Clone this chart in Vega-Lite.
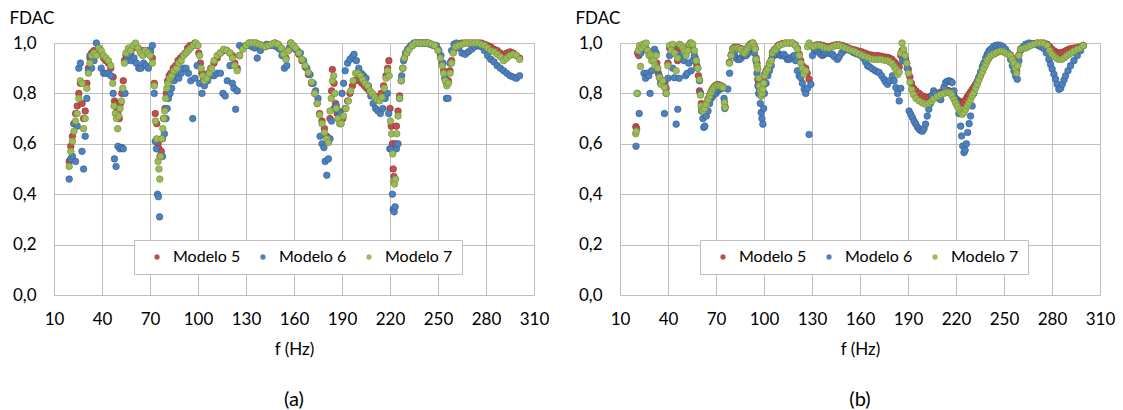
{
"$schema":"https://vega.github.io/schema/vega-lite/v6.json",
"padding":{"left":8,"top":8,"right":0,"bottom":0},
"spacing":24,
"resolve":{"legend":{"color":"independent"}},
"config":{
"font":"Lato",
"view":{"stroke":"#bfbfbf"},
"axis":{"grid":true,"gridColor":"#bfbfbf","domain":false,"ticks":false,"labelFontSize":17,"labelColor":"#000000","titleFontSize":17,"titleFontWeight":"normal","titleColor":"#000000"},
"axisX":{"labelPadding":16,"titlePadding":14,"labelFlush":false},
"axisY":{"labelPadding":18,"titleAngle":0,"titleAlign":"left","titleBaseline":"middle","titleX":-45,"titleY":-25},
"title":{"fontSize":20,"fontWeight":"normal","color":"#000000","orient":"bottom","offset":33}
},
"datasets":{
"a":[
{"f":19.5,"m":5,"v":0.53},{"f":20.5,"m":5,"v":0.59},{"f":21.5,"m":5,"v":0.63},{"f":22.5,"m":5,"v":0.68},{"f":23.5,"m":5,"v":0.72},{"f":24.5,"m":5,"v":0.75},{"f":25.5,"m":5,"v":0.8},{"f":26.5,"m":5,"v":0.84},{"f":27.5,"m":5,"v":0.76},{"f":28.5,"m":5,"v":0.7},{"f":29.5,"m":5,"v":0.73},{"f":30.5,"m":5,"v":0.84},{"f":31.5,"m":5,"v":0.9},{"f":32.5,"m":5,"v":0.94},{"f":33.5,"m":5,"v":0.96},{"f":35,"m":5,"v":0.97},{"f":36.5,"m":5,"v":0.96},{"f":38,"m":5,"v":0.97},{"f":39.5,"m":5,"v":0.96},{"f":41,"m":5,"v":0.94},{"f":42.5,"m":5,"v":0.93},{"f":44,"m":5,"v":0.92},{"f":45.5,"m":5,"v":0.9},{"f":47,"m":5,"v":0.865},{"f":47.8,"m":5,"v":0.77},{"f":48.5,"m":5,"v":0.76},{"f":49.3,"m":5,"v":0.74},{"f":50,"m":5,"v":0.73},{"f":50.8,"m":5,"v":0.7},{"f":51.6,"m":5,"v":0.76},{"f":52.4,"m":5,"v":0.8},{"f":53.3,"m":5,"v":0.85},{"f":54,"m":5,"v":0.93},{"f":55,"m":5,"v":0.95},{"f":56.5,"m":5,"v":0.97},{"f":58,"m":5,"v":0.96},{"f":59.5,"m":5,"v":0.98},{"f":61,"m":5,"v":0.99},{"f":62.5,"m":5,"v":0.98},{"f":64,"m":5,"v":0.97},{"f":65.5,"m":5,"v":0.97},{"f":67,"m":5,"v":0.96},{"f":68.5,"m":5,"v":0.97},{"f":70,"m":5,"v":0.96},{"f":71.5,"m":5,"v":0.94},{"f":72.7,"m":5,"v":0.84},{"f":73.3,"m":5,"v":0.72},{"f":74.2,"m":5,"v":0.68},{"f":75,"m":5,"v":0.6},{"f":75.6,"m":5,"v":0.58},{"f":76.3,"m":5,"v":0.55},{"f":77,"m":5,"v":0.57},{"f":77.8,"m":5,"v":0.62},{"f":78.5,"m":5,"v":0.7},{"f":79.3,"m":5,"v":0.74},{"f":80.2,"m":5,"v":0.8},{"f":81,"m":5,"v":0.85},{"f":82,"m":5,"v":0.87},{"f":83,"m":5,"v":0.88},{"f":84.5,"m":5,"v":0.9},{"f":86,"m":5,"v":0.91},{"f":87.5,"m":5,"v":0.93},{"f":89,"m":5,"v":0.94},{"f":90.5,"m":5,"v":0.95},{"f":92,"m":5,"v":0.96},{"f":93.5,"m":5,"v":0.98},{"f":95,"m":5,"v":0.99},{"f":96.5,"m":5,"v":0.99},{"f":98,"m":5,"v":1.0},{"f":99.5,"m":5,"v":0.99},{"f":100.5,"m":5,"v":0.96},{"f":101.5,"m":5,"v":0.92},{"f":102.5,"m":5,"v":0.88},{"f":103.5,"m":5,"v":0.86},{"f":105,"m":5,"v":0.86},{"f":106.5,"m":5,"v":0.88},{"f":108,"m":5,"v":0.9},{"f":110,"m":5,"v":0.92},{"f":112,"m":5,"v":0.94},{"f":114,"m":5,"v":0.96},{"f":116,"m":5,"v":0.97},{"f":118,"m":5,"v":0.97},{"f":120,"m":5,"v":0.96},{"f":121.5,"m":5,"v":0.95},{"f":123,"m":5,"v":0.92},{"f":124.5,"m":5,"v":0.9},{"f":126,"m":5,"v":0.95},{"f":128,"m":5,"v":0.98},{"f":130,"m":5,"v":0.99},{"f":132,"m":5,"v":1.0},{"f":134,"m":5,"v":1.0},{"f":136,"m":5,"v":1.0},{"f":138,"m":5,"v":0.995},{"f":140,"m":5,"v":0.99},{"f":142,"m":5,"v":0.985},{"f":144,"m":5,"v":0.99},{"f":146,"m":5,"v":0.995},{"f":148,"m":5,"v":1.0},{"f":150,"m":5,"v":0.995},{"f":152,"m":5,"v":0.98},{"f":153.5,"m":5,"v":0.95},{"f":155,"m":5,"v":0.94},{"f":156.5,"m":5,"v":0.97},{"f":158,"m":5,"v":1.0},{"f":159.5,"m":5,"v":0.99},{"f":161,"m":5,"v":0.975},{"f":163,"m":5,"v":0.955},{"f":165,"m":5,"v":0.93},{"f":167,"m":5,"v":0.905},{"f":169,"m":5,"v":0.875},{"f":171,"m":5,"v":0.84},{"f":173,"m":5,"v":0.8},{"f":174.5,"m":5,"v":0.76},{"f":176,"m":5,"v":0.72},{"f":177.5,"m":5,"v":0.69},{"f":179,"m":5,"v":0.66},{"f":180.5,"m":5,"v":0.63},{"f":181.5,"m":5,"v":0.61},{"f":182.5,"m":5,"v":0.7},{"f":183.5,"m":5,"v":0.81},{"f":184,"m":5,"v":0.895},{"f":185,"m":5,"v":0.84},{"f":186,"m":5,"v":0.76},{"f":187,"m":5,"v":0.72},{"f":188,"m":5,"v":0.7},{"f":189,"m":5,"v":0.68},{"f":190.5,"m":5,"v":0.7},{"f":192,"m":5,"v":0.74},{"f":193.5,"m":5,"v":0.77},{"f":195,"m":5,"v":0.8},{"f":196.5,"m":5,"v":0.83},{"f":198,"m":5,"v":0.85},{"f":199.5,"m":5,"v":0.855},{"f":201,"m":5,"v":0.85},{"f":202.5,"m":5,"v":0.84},{"f":204,"m":5,"v":0.83},{"f":205.5,"m":5,"v":0.82},{"f":207,"m":5,"v":0.81},{"f":208.5,"m":5,"v":0.8},{"f":210,"m":5,"v":0.79},{"f":211.5,"m":5,"v":0.785},{"f":213,"m":5,"v":0.785},{"f":214.5,"m":5,"v":0.8},{"f":216,"m":5,"v":0.83},{"f":217.5,"m":5,"v":0.87},{"f":218.5,"m":5,"v":0.9},{"f":219.3,"m":5,"v":0.93},{"f":220,"m":5,"v":0.74},{"f":220.8,"m":5,"v":0.67},{"f":221.5,"m":5,"v":0.6},{"f":222,"m":5,"v":0.5},{"f":222.5,"m":5,"v":0.47},{"f":223.3,"m":5,"v":0.6},{"f":224,"m":5,"v":0.67},{"f":225,"m":5,"v":0.73},{"f":226,"m":5,"v":0.79},{"f":227,"m":5,"v":0.85},{"f":228,"m":5,"v":0.9},{"f":229,"m":5,"v":0.94},{"f":230.5,"m":5,"v":0.96},{"f":232,"m":5,"v":0.98},{"f":234,"m":5,"v":0.99},{"f":236,"m":5,"v":1.0},{"f":238,"m":5,"v":1.0},{"f":240,"m":5,"v":1.0},{"f":242,"m":5,"v":1.0},{"f":244,"m":5,"v":1.0},{"f":246,"m":5,"v":0.995},{"f":248,"m":5,"v":0.99},{"f":250,"m":5,"v":0.975},{"f":251.5,"m":5,"v":0.95},{"f":252.5,"m":5,"v":0.92},{"f":253.5,"m":5,"v":0.89},{"f":254.5,"m":5,"v":0.86},{"f":255.5,"m":5,"v":0.84},{"f":256.5,"m":5,"v":0.85},{"f":257.5,"m":5,"v":0.89},{"f":258.5,"m":5,"v":0.93},{"f":259.5,"m":5,"v":0.965},{"f":261,"m":5,"v":0.99},{"f":263,"m":5,"v":0.995},{"f":265,"m":5,"v":1.0},{"f":267,"m":5,"v":1.0},{"f":269,"m":5,"v":1.0},{"f":271,"m":5,"v":1.0},{"f":273,"m":5,"v":1.0},{"f":275,"m":5,"v":1.0},{"f":277,"m":5,"v":1.0},{"f":279,"m":5,"v":0.995},{"f":281,"m":5,"v":0.99},{"f":283,"m":5,"v":0.985},{"f":285,"m":5,"v":0.975},{"f":287,"m":5,"v":0.97},{"f":289,"m":5,"v":0.96},{"f":291,"m":5,"v":0.95},{"f":293,"m":5,"v":0.96},{"f":295,"m":5,"v":0.965},{"f":297,"m":5,"v":0.96},{"f":299,"m":5,"v":0.95},{"f":301,"m":5,"v":0.94},
{"f":19.5,"m":6,"v":0.46},{"f":20.5,"m":6,"v":0.54},{"f":21.5,"m":6,"v":0.55},{"f":22.5,"m":6,"v":0.68},{"f":23.5,"m":6,"v":0.53},{"f":24.5,"m":6,"v":0.67},{"f":25.5,"m":6,"v":0.9},{"f":26.5,"m":6,"v":0.92},{"f":27.5,"m":6,"v":0.57},{"f":28.5,"m":6,"v":0.5},{"f":29.5,"m":6,"v":0.63},{"f":30.5,"m":6,"v":0.78},{"f":31.5,"m":6,"v":0.89},{"f":32.5,"m":6,"v":0.95},{"f":33.5,"m":6,"v":0.9},{"f":35,"m":6,"v":0.93},{"f":36.5,"m":6,"v":1.0},{"f":38,"m":6,"v":0.98},{"f":39.5,"m":6,"v":0.9},{"f":41,"m":6,"v":0.88},{"f":42.5,"m":6,"v":0.88},{"f":44,"m":6,"v":0.88},{"f":45.5,"m":6,"v":0.87},{"f":47,"m":6,"v":0.8},{"f":47.8,"m":6,"v":0.54},{"f":48.8,"m":6,"v":0.51},{"f":50,"m":6,"v":0.59},{"f":51.2,"m":6,"v":0.58},{"f":52.4,"m":6,"v":0.585},{"f":53.3,"m":6,"v":0.58},{"f":54.4,"m":6,"v":0.8},{"f":55.5,"m":6,"v":0.93},{"f":57,"m":6,"v":0.95},{"f":58.5,"m":6,"v":0.93},{"f":60,"m":6,"v":0.94},{"f":61.5,"m":6,"v":0.92},{"f":63,"m":6,"v":0.9},{"f":64.4,"m":6,"v":0.9},{"f":66,"m":6,"v":0.92},{"f":67.5,"m":6,"v":0.91},{"f":69,"m":6,"v":0.9},{"f":70.3,"m":6,"v":0.97},{"f":71.5,"m":6,"v":0.99},{"f":72.7,"m":6,"v":0.8},{"f":73.3,"m":6,"v":0.61},{"f":74,"m":6,"v":0.58},{"f":74.7,"m":6,"v":0.4},{"f":75.3,"m":6,"v":0.39},{"f":76,"m":6,"v":0.31},{"f":76.8,"m":6,"v":0.55},{"f":77.8,"m":6,"v":0.55},{"f":79,"m":6,"v":0.64},{"f":80,"m":6,"v":0.7},{"f":80.7,"m":6,"v":0.74},{"f":81.5,"m":6,"v":0.78},{"f":82.5,"m":6,"v":0.8},{"f":83.5,"m":6,"v":0.82},{"f":85,"m":6,"v":0.85},{"f":86.5,"m":6,"v":0.87},{"f":88,"m":6,"v":0.86},{"f":89.5,"m":6,"v":0.88},{"f":91,"m":6,"v":0.9},{"f":92.5,"m":6,"v":0.9},{"f":94,"m":6,"v":0.88},{"f":95.5,"m":6,"v":0.85},{"f":96.7,"m":6,"v":0.7},{"f":98,"m":6,"v":0.86},{"f":99.5,"m":6,"v":0.91},{"f":101,"m":6,"v":0.84},{"f":102.5,"m":6,"v":0.8},{"f":104,"m":6,"v":0.83},{"f":106,"m":6,"v":0.85},{"f":108,"m":6,"v":0.87},{"f":110,"m":6,"v":0.87},{"f":112,"m":6,"v":0.88},{"f":114,"m":6,"v":0.88},{"f":115.6,"m":6,"v":0.8},{"f":117,"m":6,"v":0.79},{"f":118.3,"m":6,"v":0.85},{"f":120,"m":6,"v":0.91},{"f":121.5,"m":6,"v":0.84},{"f":122.5,"m":6,"v":0.82},{"f":123.5,"m":6,"v":0.737},{"f":124.5,"m":6,"v":0.81},{"f":126,"m":6,"v":0.99},{"f":128,"m":6,"v":0.98},{"f":130,"m":6,"v":0.99},{"f":132,"m":6,"v":0.99},{"f":134,"m":6,"v":0.985},{"f":135.5,"m":6,"v":0.98},{"f":137,"m":6,"v":0.94},{"f":139,"m":6,"v":0.97},{"f":141,"m":6,"v":0.99},{"f":143,"m":6,"v":0.995},{"f":145,"m":6,"v":0.99},{"f":147,"m":6,"v":0.99},{"f":149,"m":6,"v":0.985},{"f":151,"m":6,"v":0.975},{"f":152.5,"m":6,"v":0.95},{"f":154,"m":6,"v":0.9},{"f":155.5,"m":6,"v":0.91},{"f":157,"m":6,"v":0.98},{"f":158.5,"m":6,"v":0.99},{"f":160,"m":6,"v":0.98},{"f":162,"m":6,"v":0.97},{"f":164,"m":6,"v":0.96},{"f":166,"m":6,"v":0.93},{"f":168,"m":6,"v":0.9},{"f":170,"m":6,"v":0.875},{"f":172,"m":6,"v":0.84},{"f":173.5,"m":6,"v":0.81},{"f":175,"m":6,"v":0.78},{"f":176.3,"m":6,"v":0.63},{"f":177.5,"m":6,"v":0.6},{"f":178.7,"m":6,"v":0.585},{"f":179.5,"m":6,"v":0.53},{"f":180.5,"m":6,"v":0.475},{"f":181.5,"m":6,"v":0.54},{"f":182.5,"m":6,"v":0.62},{"f":183.5,"m":6,"v":0.69},{"f":185,"m":6,"v":0.74},{"f":186.5,"m":6,"v":0.75},{"f":188,"m":6,"v":0.73},{"f":189,"m":6,"v":0.72},{"f":190,"m":6,"v":0.8},{"f":191,"m":6,"v":0.84},{"f":192,"m":6,"v":0.89},{"f":193.5,"m":6,"v":0.92},{"f":195,"m":6,"v":0.935},{"f":196.5,"m":6,"v":0.945},{"f":197.5,"m":6,"v":0.955},{"f":199,"m":6,"v":0.93},{"f":200.5,"m":6,"v":0.9},{"f":202,"m":6,"v":0.88},{"f":203.5,"m":6,"v":0.87},{"f":205,"m":6,"v":0.86},{"f":206.5,"m":6,"v":0.83},{"f":208,"m":6,"v":0.79},{"f":209.5,"m":6,"v":0.76},{"f":211,"m":6,"v":0.74},{"f":212.5,"m":6,"v":0.73},{"f":214,"m":6,"v":0.72},{"f":215.5,"m":6,"v":0.74},{"f":217,"m":6,"v":0.78},{"f":218.3,"m":6,"v":0.8},{"f":219.2,"m":6,"v":0.72},{"f":219.9,"m":6,"v":0.58},{"f":220.6,"m":6,"v":0.58},{"f":221.5,"m":6,"v":0.4},{"f":222,"m":6,"v":0.34},{"f":222.6,"m":6,"v":0.33},{"f":223.2,"m":6,"v":0.35},{"f":224,"m":6,"v":0.58},{"f":225,"m":6,"v":0.6},{"f":226,"m":6,"v":0.78},{"f":227.3,"m":6,"v":0.87},{"f":228.5,"m":6,"v":0.93},{"f":229.7,"m":6,"v":0.96},{"f":231,"m":6,"v":0.975},{"f":233,"m":6,"v":0.99},{"f":235,"m":6,"v":1.0},{"f":237,"m":6,"v":1.0},{"f":239,"m":6,"v":1.0},{"f":241,"m":6,"v":1.0},{"f":243,"m":6,"v":1.0},{"f":245,"m":6,"v":0.995},{"f":247,"m":6,"v":0.99},{"f":249,"m":6,"v":0.99},{"f":250.5,"m":6,"v":0.97},{"f":251.8,"m":6,"v":0.95},{"f":253,"m":6,"v":0.92},{"f":254.3,"m":6,"v":0.86},{"f":255.3,"m":6,"v":0.78},{"f":256.3,"m":6,"v":0.78},{"f":257.5,"m":6,"v":0.92},{"f":258.5,"m":6,"v":0.97},{"f":260,"m":6,"v":0.995},{"f":261.5,"m":6,"v":1.0},{"f":263,"m":6,"v":0.98},{"f":265,"m":6,"v":0.96},{"f":267,"m":6,"v":0.955},{"f":269,"m":6,"v":0.965},{"f":271,"m":6,"v":0.975},{"f":273,"m":6,"v":0.985},{"f":275,"m":6,"v":0.99},{"f":277,"m":6,"v":0.985},{"f":279,"m":6,"v":0.97},{"f":281,"m":6,"v":0.95},{"f":283,"m":6,"v":0.935},{"f":285,"m":6,"v":0.925},{"f":287,"m":6,"v":0.91},{"f":289,"m":6,"v":0.9},{"f":291,"m":6,"v":0.89},{"f":293,"m":6,"v":0.88},{"f":295,"m":6,"v":0.87},{"f":297,"m":6,"v":0.865},{"f":299,"m":6,"v":0.86},{"f":301,"m":6,"v":0.87},
{"f":19.5,"m":7,"v":0.51},{"f":20.5,"m":7,"v":0.57},{"f":21.5,"m":7,"v":0.61},{"f":22.5,"m":7,"v":0.65},{"f":23.5,"m":7,"v":0.69},{"f":24.5,"m":7,"v":0.72},{"f":25.5,"m":7,"v":0.78},{"f":26.5,"m":7,"v":0.85},{"f":27.5,"m":7,"v":0.84},{"f":28.5,"m":7,"v":0.66},{"f":29.5,"m":7,"v":0.7},{"f":30.5,"m":7,"v":0.82},{"f":31.5,"m":7,"v":0.88},{"f":32.5,"m":7,"v":0.92},{"f":33.5,"m":7,"v":0.95},{"f":35,"m":7,"v":0.96},{"f":36.5,"m":7,"v":0.95},{"f":38,"m":7,"v":0.98},{"f":39.5,"m":7,"v":0.97},{"f":41,"m":7,"v":0.95},{"f":42.5,"m":7,"v":0.94},{"f":44,"m":7,"v":0.93},{"f":45.5,"m":7,"v":0.91},{"f":46.7,"m":7,"v":0.84},{"f":47.5,"m":7,"v":0.75},{"f":48.3,"m":7,"v":0.72},{"f":49,"m":7,"v":0.7},{"f":49.8,"m":7,"v":0.66},{"f":50.5,"m":7,"v":0.71},{"f":51.3,"m":7,"v":0.74},{"f":52.2,"m":7,"v":0.77},{"f":53,"m":7,"v":0.82},{"f":54,"m":7,"v":0.92},{"f":55,"m":7,"v":0.96},{"f":56.5,"m":7,"v":0.98},{"f":58,"m":7,"v":0.97},{"f":59.5,"m":7,"v":0.99},{"f":61,"m":7,"v":1.0},{"f":62.5,"m":7,"v":0.98},{"f":64,"m":7,"v":0.96},{"f":65.5,"m":7,"v":0.95},{"f":67,"m":7,"v":0.97},{"f":68.5,"m":7,"v":0.96},{"f":70,"m":7,"v":0.95},{"f":71.5,"m":7,"v":0.92},{"f":72.7,"m":7,"v":0.83},{"f":73.4,"m":7,"v":0.69},{"f":74.2,"m":7,"v":0.62},{"f":75,"m":7,"v":0.53},{"f":75.6,"m":7,"v":0.5},{"f":76.1,"m":7,"v":0.46},{"f":76.7,"m":7,"v":0.55},{"f":77.4,"m":7,"v":0.62},{"f":78,"m":7,"v":0.66},{"f":78.6,"m":7,"v":0.7},{"f":79.2,"m":7,"v":0.73},{"f":79.8,"m":7,"v":0.78},{"f":80.5,"m":7,"v":0.82},{"f":81.3,"m":7,"v":0.84},{"f":82.3,"m":7,"v":0.86},{"f":83.5,"m":7,"v":0.87},{"f":85,"m":7,"v":0.89},{"f":86.5,"m":7,"v":0.9},{"f":88,"m":7,"v":0.92},{"f":89.5,"m":7,"v":0.93},{"f":91,"m":7,"v":0.95},{"f":92.5,"m":7,"v":0.96},{"f":94,"m":7,"v":0.97},{"f":95.5,"m":7,"v":0.98},{"f":97,"m":7,"v":0.99},{"f":98.5,"m":7,"v":1.0},{"f":100,"m":7,"v":0.99},{"f":101,"m":7,"v":0.95},{"f":102,"m":7,"v":0.9},{"f":103,"m":7,"v":0.87},{"f":104,"m":7,"v":0.85},{"f":105.5,"m":7,"v":0.86},{"f":107,"m":7,"v":0.88},{"f":108.5,"m":7,"v":0.9},{"f":110,"m":7,"v":0.93},{"f":112,"m":7,"v":0.95},{"f":114,"m":7,"v":0.96},{"f":116,"m":7,"v":0.975},{"f":118,"m":7,"v":0.97},{"f":120,"m":7,"v":0.96},{"f":121.5,"m":7,"v":0.94},{"f":123,"m":7,"v":0.91},{"f":124.5,"m":7,"v":0.89},{"f":126,"m":7,"v":0.95},{"f":128,"m":7,"v":0.975},{"f":130,"m":7,"v":0.99},{"f":132,"m":7,"v":1.0},{"f":134,"m":7,"v":1.0},{"f":136,"m":7,"v":1.0},{"f":138,"m":7,"v":0.995},{"f":140,"m":7,"v":0.99},{"f":142,"m":7,"v":0.985},{"f":144,"m":7,"v":0.99},{"f":146,"m":7,"v":0.995},{"f":148,"m":7,"v":1.0},{"f":150,"m":7,"v":0.995},{"f":152,"m":7,"v":0.98},{"f":153.5,"m":7,"v":0.955},{"f":155,"m":7,"v":0.935},{"f":156.5,"m":7,"v":0.97},{"f":158,"m":7,"v":1.0},{"f":159.5,"m":7,"v":0.99},{"f":161,"m":7,"v":0.98},{"f":163,"m":7,"v":0.96},{"f":165,"m":7,"v":0.935},{"f":167,"m":7,"v":0.91},{"f":169,"m":7,"v":0.883},{"f":171,"m":7,"v":0.845},{"f":173,"m":7,"v":0.8},{"f":174.5,"m":7,"v":0.76},{"f":176,"m":7,"v":0.715},{"f":177.5,"m":7,"v":0.68},{"f":179,"m":7,"v":0.645},{"f":180.5,"m":7,"v":0.62},{"f":181.5,"m":7,"v":0.605},{"f":182.5,"m":7,"v":0.73},{"f":183.3,"m":7,"v":0.78},{"f":184,"m":7,"v":0.85},{"f":184.8,"m":7,"v":0.87},{"f":185.5,"m":7,"v":0.8},{"f":186.5,"m":7,"v":0.74},{"f":187.5,"m":7,"v":0.7},{"f":188.5,"m":7,"v":0.68},{"f":189.5,"m":7,"v":0.68},{"f":191,"m":7,"v":0.71},{"f":192.5,"m":7,"v":0.74},{"f":194,"m":7,"v":0.77},{"f":195.5,"m":7,"v":0.81},{"f":197,"m":7,"v":0.85},{"f":198.5,"m":7,"v":0.88},{"f":200,"m":7,"v":0.88},{"f":201.5,"m":7,"v":0.87},{"f":203,"m":7,"v":0.855},{"f":204.5,"m":7,"v":0.84},{"f":206,"m":7,"v":0.83},{"f":207.5,"m":7,"v":0.81},{"f":209,"m":7,"v":0.8},{"f":210.5,"m":7,"v":0.785},{"f":212,"m":7,"v":0.775},{"f":213.5,"m":7,"v":0.77},{"f":215,"m":7,"v":0.785},{"f":216.5,"m":7,"v":0.82},{"f":217.5,"m":7,"v":0.86},{"f":218.5,"m":7,"v":0.89},{"f":219.5,"m":7,"v":0.87},{"f":220.3,"m":7,"v":0.69},{"f":221,"m":7,"v":0.64},{"f":221.7,"m":7,"v":0.56},{"f":222.2,"m":7,"v":0.45},{"f":222.8,"m":7,"v":0.44},{"f":223.5,"m":7,"v":0.46},{"f":224.2,"m":7,"v":0.64},{"f":225,"m":7,"v":0.71},{"f":226,"m":7,"v":0.78},{"f":227,"m":7,"v":0.85},{"f":228,"m":7,"v":0.9},{"f":229,"m":7,"v":0.94},{"f":230.5,"m":7,"v":0.96},{"f":232,"m":7,"v":0.975},{"f":234,"m":7,"v":0.99},{"f":236,"m":7,"v":1.0},{"f":238,"m":7,"v":1.0},{"f":240,"m":7,"v":1.0},{"f":242,"m":7,"v":1.0},{"f":244,"m":7,"v":1.0},{"f":246,"m":7,"v":0.995},{"f":248,"m":7,"v":0.99},{"f":250,"m":7,"v":0.97},{"f":251.5,"m":7,"v":0.94},{"f":252.5,"m":7,"v":0.91},{"f":253.5,"m":7,"v":0.88},{"f":254.5,"m":7,"v":0.85},{"f":255.5,"m":7,"v":0.83},{"f":256.5,"m":7,"v":0.84},{"f":257.5,"m":7,"v":0.88},{"f":258.5,"m":7,"v":0.92},{"f":259.5,"m":7,"v":0.96},{"f":261,"m":7,"v":0.985},{"f":263,"m":7,"v":0.99},{"f":265,"m":7,"v":0.995},{"f":267,"m":7,"v":1.0},{"f":269,"m":7,"v":1.0},{"f":271,"m":7,"v":1.0},{"f":273,"m":7,"v":1.0},{"f":275,"m":7,"v":1.0},{"f":277,"m":7,"v":0.995},{"f":279,"m":7,"v":0.99},{"f":281,"m":7,"v":0.98},{"f":283,"m":7,"v":0.97},{"f":285,"m":7,"v":0.965},{"f":287,"m":7,"v":0.955},{"f":289,"m":7,"v":0.945},{"f":291,"m":7,"v":0.93},{"f":293,"m":7,"v":0.94},{"f":295,"m":7,"v":0.95},{"f":297,"m":7,"v":0.955},{"f":299,"m":7,"v":0.95},{"f":301,"m":7,"v":0.935}
],
"b":[
{"f":19.9,"m":5,"v":0.668},{"f":20.4,"m":5,"v":0.66},{"f":21,"m":5,"v":0.96},{"f":21.8,"m":5,"v":0.95},{"f":22.6,"m":5,"v":0.97},{"f":23.5,"m":5,"v":0.98},{"f":24.5,"m":5,"v":0.99},{"f":25.5,"m":5,"v":0.98},{"f":26.5,"m":5,"v":0.975},{"f":27.4,"m":5,"v":0.968},{"f":28.3,"m":5,"v":0.96},{"f":29.2,"m":5,"v":0.95},{"f":30,"m":5,"v":0.94},{"f":31,"m":5,"v":0.93},{"f":32,"m":5,"v":0.95},{"f":33,"m":5,"v":0.92},{"f":34,"m":5,"v":0.88},{"f":35,"m":5,"v":0.86},{"f":36,"m":5,"v":0.85},{"f":36.8,"m":5,"v":0.85},{"f":37.8,"m":5,"v":0.84},{"f":38.8,"m":5,"v":0.82},{"f":40,"m":5,"v":0.92},{"f":41,"m":5,"v":0.98},{"f":42,"m":5,"v":0.99},{"f":43,"m":5,"v":0.98},{"f":44,"m":5,"v":0.96},{"f":45,"m":5,"v":0.975},{"f":46,"m":5,"v":0.93},{"f":47,"m":5,"v":0.98},{"f":48,"m":5,"v":0.99},{"f":49,"m":5,"v":0.98},{"f":50,"m":5,"v":0.97},{"f":51,"m":5,"v":0.96},{"f":52,"m":5,"v":0.97},{"f":53,"m":5,"v":0.99},{"f":54,"m":5,"v":1.0},{"f":55,"m":5,"v":0.99},{"f":56,"m":5,"v":0.97},{"f":57,"m":5,"v":0.94},{"f":58,"m":5,"v":0.91},{"f":59,"m":5,"v":0.87},{"f":59.7,"m":5,"v":0.81},{"f":60.3,"m":5,"v":0.8},{"f":60.8,"m":5,"v":0.76},{"f":61.3,"m":5,"v":0.74},{"f":62,"m":5,"v":0.735},{"f":63,"m":5,"v":0.745},{"f":64,"m":5,"v":0.76},{"f":65,"m":5,"v":0.778},{"f":66,"m":5,"v":0.793},{"f":67,"m":5,"v":0.808},{"f":68,"m":5,"v":0.82},{"f":69,"m":5,"v":0.828},{"f":70.1,"m":5,"v":0.833},{"f":71.1,"m":5,"v":0.835},{"f":72.2,"m":5,"v":0.833},{"f":73.2,"m":5,"v":0.83},{"f":74.3,"m":5,"v":0.826},{"f":75.3,"m":5,"v":0.766},{"f":75.7,"m":5,"v":0.747},{"f":78.4,"m":5,"v":0.923},{"f":79.5,"m":5,"v":0.953},{"f":80.5,"m":5,"v":0.978},{"f":81.5,"m":5,"v":0.983},{"f":82.6,"m":5,"v":0.983},{"f":83.6,"m":5,"v":0.983},{"f":84.7,"m":5,"v":0.978},{"f":85.7,"m":5,"v":0.978},{"f":86.8,"m":5,"v":0.968},{"f":87.8,"m":5,"v":0.963},{"f":88.9,"m":5,"v":0.973},{"f":89.9,"m":5,"v":0.983},{"f":91,"m":5,"v":0.993},{"f":92,"m":5,"v":0.998},{"f":93,"m":5,"v":1.0},{"f":94,"m":5,"v":0.988},{"f":94.5,"m":5,"v":0.978},{"f":95.1,"m":5,"v":0.94},{"f":95.6,"m":5,"v":0.92},{"f":96.1,"m":5,"v":0.856},{"f":96.7,"m":5,"v":0.84},{"f":97.2,"m":5,"v":0.82},{"f":97.7,"m":5,"v":0.8},{"f":98.2,"m":5,"v":0.79},{"f":98.8,"m":5,"v":0.81},{"f":99.3,"m":5,"v":0.826},{"f":99.8,"m":5,"v":0.85},{"f":100.3,"m":5,"v":0.875},{"f":101.3,"m":5,"v":0.89},{"f":102.4,"m":5,"v":0.9},{"f":103.4,"m":5,"v":0.918},{"f":104.5,"m":5,"v":0.933},{"f":105.3,"m":5,"v":0.963},{"f":106.4,"m":5,"v":0.973},{"f":107.4,"m":5,"v":0.978},{"f":108.5,"m":5,"v":0.988},{"f":109.5,"m":5,"v":0.993},{"f":111.5,"m":5,"v":0.998},{"f":113.6,"m":5,"v":1.0},{"f":115.7,"m":5,"v":1.0},{"f":117.8,"m":5,"v":1.0},{"f":119.5,"m":5,"v":0.993},{"f":121,"m":5,"v":0.978},{"f":122,"m":5,"v":0.955},{"f":123,"m":5,"v":0.93},{"f":124,"m":5,"v":0.91},{"f":125,"m":5,"v":0.9},{"f":126.1,"m":5,"v":0.9},{"f":127,"m":5,"v":0.88},{"f":128.2,"m":5,"v":0.856},{"f":129.2,"m":5,"v":0.99},{"f":131,"m":5,"v":0.988},{"f":133,"m":5,"v":0.993},{"f":135,"m":5,"v":0.993},{"f":137,"m":5,"v":0.99},{"f":139,"m":5,"v":0.985},{"f":141,"m":5,"v":0.985},{"f":143,"m":5,"v":0.99},{"f":145,"m":5,"v":0.993},{"f":147,"m":5,"v":0.993},{"f":149,"m":5,"v":0.99},{"f":151,"m":5,"v":0.985},{"f":153,"m":5,"v":0.98},{"f":155,"m":5,"v":0.975},{"f":157,"m":5,"v":0.972},{"f":159,"m":5,"v":0.968},{"f":161,"m":5,"v":0.965},{"f":163,"m":5,"v":0.96},{"f":165,"m":5,"v":0.955},{"f":167,"m":5,"v":0.952},{"f":169,"m":5,"v":0.95},{"f":171,"m":5,"v":0.95},{"f":173,"m":5,"v":0.948},{"f":175,"m":5,"v":0.945},{"f":177,"m":5,"v":0.943},{"f":178.5,"m":5,"v":0.94},{"f":180,"m":5,"v":0.935},{"f":181.5,"m":5,"v":0.925},{"f":182.5,"m":5,"v":0.915},{"f":183.5,"m":5,"v":0.9},{"f":184.5,"m":5,"v":0.905},{"f":185.5,"m":5,"v":0.95},{"f":186.3,"m":5,"v":0.97},{"f":187.2,"m":5,"v":0.96},{"f":188.2,"m":5,"v":0.94},{"f":189.2,"m":5,"v":0.92},{"f":190.2,"m":5,"v":0.895},{"f":191.2,"m":5,"v":0.865},{"f":192.2,"m":5,"v":0.84},{"f":193.5,"m":5,"v":0.82},{"f":195,"m":5,"v":0.81},{"f":197,"m":5,"v":0.8},{"f":199,"m":5,"v":0.79},{"f":201,"m":5,"v":0.785},{"f":203,"m":5,"v":0.785},{"f":204.5,"m":5,"v":0.79},{"f":206,"m":5,"v":0.795},{"f":208.3,"m":5,"v":0.8},{"f":210.3,"m":5,"v":0.805},{"f":212.4,"m":5,"v":0.81},{"f":214.5,"m":5,"v":0.812},{"f":215.6,"m":5,"v":0.81},{"f":216.6,"m":5,"v":0.805},{"f":217.6,"m":5,"v":0.8},{"f":218.7,"m":5,"v":0.79},{"f":219.7,"m":5,"v":0.78},{"f":220.7,"m":5,"v":0.775},{"f":221.8,"m":5,"v":0.77},{"f":222.9,"m":5,"v":0.765},{"f":223.9,"m":5,"v":0.76},{"f":225,"m":5,"v":0.765},{"f":226,"m":5,"v":0.775},{"f":227,"m":5,"v":0.785},{"f":228,"m":5,"v":0.795},{"f":229.1,"m":5,"v":0.805},{"f":230.1,"m":5,"v":0.815},{"f":231.2,"m":5,"v":0.825},{"f":232.2,"m":5,"v":0.835},{"f":233.3,"m":5,"v":0.848},{"f":234.3,"m":5,"v":0.86},{"f":235.4,"m":5,"v":0.875},{"f":236.4,"m":5,"v":0.888},{"f":237.4,"m":5,"v":0.902},{"f":238.5,"m":5,"v":0.917},{"f":239.5,"m":5,"v":0.93},{"f":240.6,"m":5,"v":0.94},{"f":241.6,"m":5,"v":0.95},{"f":243.2,"m":5,"v":0.955},{"f":244.7,"m":5,"v":0.96},{"f":246.3,"m":5,"v":0.965},{"f":247.9,"m":5,"v":0.968},{"f":249.5,"m":5,"v":0.966},{"f":251,"m":5,"v":0.962},{"f":252.6,"m":5,"v":0.957},{"f":254.1,"m":5,"v":0.952},{"f":255.2,"m":5,"v":0.94},{"f":256.2,"m":5,"v":0.925},{"f":257.2,"m":5,"v":0.905},{"f":257.9,"m":5,"v":0.89},{"f":258.6,"m":5,"v":0.915},{"f":259.3,"m":5,"v":0.953},{"f":260.4,"m":5,"v":0.977},{"f":262,"m":5,"v":0.98},{"f":263.5,"m":5,"v":0.983},{"f":265,"m":5,"v":0.988},{"f":266.6,"m":5,"v":0.992},{"f":268.7,"m":5,"v":0.997},{"f":270.8,"m":5,"v":1.0},{"f":272.9,"m":5,"v":1.0},{"f":274.9,"m":5,"v":1.0},{"f":277,"m":5,"v":0.995},{"f":278.5,"m":5,"v":0.985},{"f":280,"m":5,"v":0.975},{"f":281.5,"m":5,"v":0.968},{"f":283,"m":5,"v":0.962},{"f":284.5,"m":5,"v":0.96},{"f":286,"m":5,"v":0.962},{"f":287.5,"m":5,"v":0.965},{"f":289,"m":5,"v":0.97},{"f":290.5,"m":5,"v":0.975},{"f":292,"m":5,"v":0.978},{"f":293.7,"m":5,"v":0.98},{"f":295.8,"m":5,"v":0.982},{"f":297.9,"m":5,"v":0.985},{"f":299.5,"m":5,"v":0.99},
{"f":20,"m":6,"v":0.59},{"f":20.8,"m":6,"v":0.8},{"f":22,"m":6,"v":0.72},{"f":23,"m":6,"v":0.96},{"f":24,"m":6,"v":0.98},{"f":25,"m":6,"v":0.88},{"f":26,"m":6,"v":0.86},{"f":27,"m":6,"v":0.88},{"f":28,"m":6,"v":0.87},{"f":28.8,"m":6,"v":0.8},{"f":29.8,"m":6,"v":0.89},{"f":30.8,"m":6,"v":0.93},{"f":31.6,"m":6,"v":0.975},{"f":32.6,"m":6,"v":0.96},{"f":33.4,"m":6,"v":0.9},{"f":34.5,"m":6,"v":0.87},{"f":35.4,"m":6,"v":0.84},{"f":36.4,"m":6,"v":0.84},{"f":37.8,"m":6,"v":0.72},{"f":38.8,"m":6,"v":0.8},{"f":40,"m":6,"v":0.86},{"f":41,"m":6,"v":0.95},{"f":42,"m":6,"v":0.97},{"f":43,"m":6,"v":0.9},{"f":44,"m":6,"v":0.862},{"f":45.1,"m":6,"v":0.678},{"f":46.1,"m":6,"v":0.737},{"f":47,"m":6,"v":0.86},{"f":48,"m":6,"v":0.95},{"f":49,"m":6,"v":0.96},{"f":50,"m":6,"v":0.93},{"f":51,"m":6,"v":0.87},{"f":52,"m":6,"v":0.88},{"f":53,"m":6,"v":0.92},{"f":54.5,"m":6,"v":0.89},{"f":55.5,"m":6,"v":0.93},{"f":56.5,"m":6,"v":0.95},{"f":57.6,"m":6,"v":0.93},{"f":58.6,"m":6,"v":0.9},{"f":59.7,"m":6,"v":0.85},{"f":60.3,"m":6,"v":0.8},{"f":61,"m":6,"v":0.73},{"f":61.8,"m":6,"v":0.7},{"f":62.4,"m":6,"v":0.665},{"f":63,"m":6,"v":0.67},{"f":63.9,"m":6,"v":0.71},{"f":65,"m":6,"v":0.73},{"f":66,"m":6,"v":0.76},{"f":67,"m":6,"v":0.78},{"f":68,"m":6,"v":0.79},{"f":69,"m":6,"v":0.8},{"f":70,"m":6,"v":0.8},{"f":71,"m":6,"v":0.81},{"f":72,"m":6,"v":0.815},{"f":73,"m":6,"v":0.82},{"f":74,"m":6,"v":0.82},{"f":75,"m":6,"v":0.78},{"f":75.5,"m":6,"v":0.74},{"f":77.4,"m":6,"v":0.817},{"f":78.5,"m":6,"v":0.88},{"f":79.5,"m":6,"v":0.95},{"f":80.5,"m":6,"v":0.96},{"f":81.5,"m":6,"v":0.955},{"f":82.6,"m":6,"v":0.94},{"f":83.6,"m":6,"v":0.935},{"f":84.7,"m":6,"v":0.935},{"f":85.7,"m":6,"v":0.94},{"f":86.8,"m":6,"v":0.95},{"f":87.8,"m":6,"v":0.95},{"f":88.9,"m":6,"v":0.95},{"f":90,"m":6,"v":0.96},{"f":91,"m":6,"v":0.975},{"f":92,"m":6,"v":0.98},{"f":93,"m":6,"v":0.985},{"f":94,"m":6,"v":0.96},{"f":95,"m":6,"v":0.93},{"f":95.6,"m":6,"v":0.88},{"f":96.2,"m":6,"v":0.83},{"f":96.7,"m":6,"v":0.8},{"f":97.2,"m":6,"v":0.797},{"f":97.7,"m":6,"v":0.76},{"f":98.2,"m":6,"v":0.724},{"f":98.7,"m":6,"v":0.7},{"f":99.3,"m":6,"v":0.678},{"f":99.8,"m":6,"v":0.74},{"f":100.3,"m":6,"v":0.8},{"f":101.3,"m":6,"v":0.84},{"f":102.4,"m":6,"v":0.87},{"f":103.4,"m":6,"v":0.89},{"f":104.5,"m":6,"v":0.91},{"f":105.3,"m":6,"v":0.95},{"f":106.4,"m":6,"v":0.95},{"f":107.4,"m":6,"v":0.955},{"f":108.5,"m":6,"v":0.96},{"f":109.5,"m":6,"v":0.955},{"f":110.5,"m":6,"v":0.95},{"f":111.5,"m":6,"v":0.95},{"f":112.5,"m":6,"v":0.955},{"f":113.6,"m":6,"v":0.945},{"f":114.6,"m":6,"v":0.935},{"f":115.7,"m":6,"v":0.935},{"f":116.7,"m":6,"v":0.94},{"f":117.8,"m":6,"v":0.945},{"f":118.8,"m":6,"v":0.95},{"f":119.8,"m":6,"v":0.93},{"f":120.9,"m":6,"v":0.89},{"f":122,"m":6,"v":0.87},{"f":123,"m":6,"v":0.862},{"f":124,"m":6,"v":0.84},{"f":125.1,"m":6,"v":0.816},{"f":126.1,"m":6,"v":0.8},{"f":127.2,"m":6,"v":0.82},{"f":128.2,"m":6,"v":0.637},{"f":129.3,"m":6,"v":0.836},{"f":130.3,"m":6,"v":0.95},{"f":131.5,"m":6,"v":0.97},{"f":132.5,"m":6,"v":0.975},{"f":133.5,"m":6,"v":0.97},{"f":134.5,"m":6,"v":0.962},{"f":135.5,"m":6,"v":0.955},{"f":136.5,"m":6,"v":0.95},{"f":137.5,"m":6,"v":0.955},{"f":138.5,"m":6,"v":0.96},{"f":140,"m":6,"v":0.96},{"f":141.5,"m":6,"v":0.958},{"f":142.8,"m":6,"v":0.955},{"f":144,"m":6,"v":0.945},{"f":145.9,"m":6,"v":0.935},{"f":147,"m":6,"v":0.945},{"f":148.5,"m":6,"v":0.96},{"f":150,"m":6,"v":0.97},{"f":151.5,"m":6,"v":0.975},{"f":153,"m":6,"v":0.972},{"f":154.5,"m":6,"v":0.968},{"f":156,"m":6,"v":0.962},{"f":157.5,"m":6,"v":0.958},{"f":159,"m":6,"v":0.955},{"f":160.5,"m":6,"v":0.95},{"f":162,"m":6,"v":0.94},{"f":163.5,"m":6,"v":0.925},{"f":164.7,"m":6,"v":0.91},{"f":166,"m":6,"v":0.905},{"f":167.8,"m":6,"v":0.897},{"f":169.5,"m":6,"v":0.89},{"f":171,"m":6,"v":0.885},{"f":172,"m":6,"v":0.883},{"f":173.5,"m":6,"v":0.87},{"f":175,"m":6,"v":0.856},{"f":176,"m":6,"v":0.845},{"f":177.2,"m":6,"v":0.836},{"f":178.5,"m":6,"v":0.85},{"f":180.3,"m":6,"v":0.87},{"f":181.3,"m":6,"v":0.85},{"f":182.4,"m":6,"v":0.823},{"f":183.5,"m":6,"v":0.8},{"f":184.5,"m":6,"v":0.77},{"f":185.5,"m":6,"v":0.82},{"f":186.5,"m":6,"v":0.93},{"f":187.5,"m":6,"v":0.95},{"f":188.5,"m":6,"v":0.93},{"f":189.5,"m":6,"v":0.9},{"f":190.7,"m":6,"v":0.73},{"f":191.7,"m":6,"v":0.717},{"f":192.8,"m":6,"v":0.704},{"f":193.8,"m":6,"v":0.69},{"f":194.9,"m":6,"v":0.678},{"f":196,"m":6,"v":0.665},{"f":197,"m":6,"v":0.658},{"f":198,"m":6,"v":0.652},{"f":199,"m":6,"v":0.65},{"f":200,"m":6,"v":0.66},{"f":201,"m":6,"v":0.678},{"f":202,"m":6,"v":0.71},{"f":203,"m":6,"v":0.737},{"f":204,"m":6,"v":0.76},{"f":205,"m":6,"v":0.79},{"f":206,"m":6,"v":0.81},{"f":207,"m":6,"v":0.8},{"f":208.3,"m":6,"v":0.79},{"f":209.5,"m":6,"v":0.78},{"f":210.5,"m":6,"v":0.775},{"f":211.5,"m":6,"v":0.8},{"f":212.5,"m":6,"v":0.825},{"f":213.5,"m":6,"v":0.843},{"f":214.5,"m":6,"v":0.848},{"f":215.6,"m":6,"v":0.85},{"f":216.6,"m":6,"v":0.848},{"f":217.6,"m":6,"v":0.843},{"f":218.7,"m":6,"v":0.81},{"f":219.7,"m":6,"v":0.78},{"f":220.7,"m":6,"v":0.763},{"f":221.8,"m":6,"v":0.72},{"f":222.9,"m":6,"v":0.67},{"f":223.5,"m":6,"v":0.631},{"f":224.2,"m":6,"v":0.591},{"f":225,"m":6,"v":0.565},{"f":225.7,"m":6,"v":0.575},{"f":226.5,"m":6,"v":0.6},{"f":227.3,"m":6,"v":0.645},{"f":228.2,"m":6,"v":0.68},{"f":229.1,"m":6,"v":0.71},{"f":230.1,"m":6,"v":0.75},{"f":231.2,"m":6,"v":0.8},{"f":232.2,"m":6,"v":0.825},{"f":233.3,"m":6,"v":0.845},{"f":234.3,"m":6,"v":0.865},{"f":235.4,"m":6,"v":0.885},{"f":236.4,"m":6,"v":0.905},{"f":237.4,"m":6,"v":0.92},{"f":238.5,"m":6,"v":0.94},{"f":239.5,"m":6,"v":0.955},{"f":240.6,"m":6,"v":0.968},{"f":241.6,"m":6,"v":0.975},{"f":243.2,"m":6,"v":0.985},{"f":244.7,"m":6,"v":0.99},{"f":246.3,"m":6,"v":0.992},{"f":247.9,"m":6,"v":0.99},{"f":249.5,"m":6,"v":0.985},{"f":251,"m":6,"v":0.975},{"f":252.6,"m":6,"v":0.96},{"f":254.1,"m":6,"v":0.935},{"f":255.2,"m":6,"v":0.91},{"f":256.2,"m":6,"v":0.89},{"f":257.2,"m":6,"v":0.87},{"f":258.3,"m":6,"v":0.856},{"f":259.3,"m":6,"v":0.93},{"f":260.4,"m":6,"v":0.97},{"f":262,"m":6,"v":0.985},{"f":263.5,"m":6,"v":0.995},{"f":265.6,"m":6,"v":1.0},{"f":267.5,"m":6,"v":0.998},{"f":269.5,"m":6,"v":0.995},{"f":271.5,"m":6,"v":0.99},{"f":273,"m":6,"v":0.985},{"f":274.9,"m":6,"v":0.978},{"f":276.5,"m":6,"v":0.96},{"f":278.1,"m":6,"v":0.935},{"f":279.1,"m":6,"v":0.915},{"f":280.1,"m":6,"v":0.897},{"f":281.2,"m":6,"v":0.876},{"f":282.2,"m":6,"v":0.856},{"f":283.2,"m":6,"v":0.836},{"f":284.3,"m":6,"v":0.816},{"f":285.4,"m":6,"v":0.82},{"f":286.4,"m":6,"v":0.836},{"f":287.5,"m":6,"v":0.853},{"f":288.5,"m":6,"v":0.87},{"f":290,"m":6,"v":0.89},{"f":291.6,"m":6,"v":0.91},{"f":293.7,"m":6,"v":0.93},{"f":295.8,"m":6,"v":0.95},{"f":297.9,"m":6,"v":0.97},{"f":299.5,"m":6,"v":0.99},
{"f":19.8,"m":7,"v":0.64},{"f":20.2,"m":7,"v":0.65},{"f":20.6,"m":7,"v":0.8},{"f":21.5,"m":7,"v":0.97},{"f":22.2,"m":7,"v":0.99},{"f":22.8,"m":7,"v":0.907},{"f":23.5,"m":7,"v":0.98},{"f":24.3,"m":7,"v":0.995},{"f":25.3,"m":7,"v":0.99},{"f":26.3,"m":7,"v":1.0},{"f":27.3,"m":7,"v":0.97},{"f":28.2,"m":7,"v":0.95},{"f":29,"m":7,"v":0.955},{"f":29.8,"m":7,"v":0.93},{"f":30.5,"m":7,"v":0.95},{"f":31.1,"m":7,"v":0.93},{"f":31.8,"m":7,"v":0.91},{"f":32.6,"m":7,"v":0.95},{"f":33.6,"m":7,"v":0.9},{"f":34.7,"m":7,"v":0.863},{"f":35.7,"m":7,"v":0.836},{"f":36.7,"m":7,"v":0.85},{"f":37.8,"m":7,"v":0.823},{"f":38.9,"m":7,"v":0.8},{"f":39.9,"m":7,"v":0.91},{"f":41,"m":7,"v":0.99},{"f":42,"m":7,"v":0.97},{"f":43,"m":7,"v":0.995},{"f":44,"m":7,"v":0.96},{"f":45.1,"m":7,"v":0.89},{"f":46.1,"m":7,"v":0.94},{"f":47.2,"m":7,"v":0.995},{"f":48.2,"m":7,"v":0.99},{"f":49.3,"m":7,"v":0.98},{"f":50.3,"m":7,"v":0.968},{"f":51.3,"m":7,"v":0.95},{"f":52.3,"m":7,"v":0.97},{"f":53.4,"m":7,"v":0.995},{"f":54.4,"m":7,"v":1.0},{"f":55.5,"m":7,"v":0.995},{"f":56.5,"m":7,"v":0.97},{"f":57.6,"m":7,"v":0.93},{"f":58.6,"m":7,"v":0.9},{"f":59.7,"m":7,"v":0.855},{"f":60.3,"m":7,"v":0.793},{"f":60.7,"m":7,"v":0.75},{"f":61.3,"m":7,"v":0.735},{"f":61.8,"m":7,"v":0.73},{"f":62.8,"m":7,"v":0.74},{"f":63.9,"m":7,"v":0.757},{"f":65,"m":7,"v":0.775},{"f":66,"m":7,"v":0.79},{"f":67,"m":7,"v":0.805},{"f":68,"m":7,"v":0.817},{"f":69,"m":7,"v":0.825},{"f":70.1,"m":7,"v":0.83},{"f":71.1,"m":7,"v":0.832},{"f":72.2,"m":7,"v":0.83},{"f":73.2,"m":7,"v":0.828},{"f":74.3,"m":7,"v":0.823},{"f":75.3,"m":7,"v":0.763},{"f":75.7,"m":7,"v":0.744},{"f":78.4,"m":7,"v":0.92},{"f":79.5,"m":7,"v":0.95},{"f":80.5,"m":7,"v":0.975},{"f":81.5,"m":7,"v":0.98},{"f":82.6,"m":7,"v":0.98},{"f":83.6,"m":7,"v":0.98},{"f":84.7,"m":7,"v":0.975},{"f":85.7,"m":7,"v":0.975},{"f":86.8,"m":7,"v":0.965},{"f":87.8,"m":7,"v":0.96},{"f":88.9,"m":7,"v":0.97},{"f":89.9,"m":7,"v":0.98},{"f":91,"m":7,"v":0.99},{"f":92,"m":7,"v":0.995},{"f":93,"m":7,"v":1.0},{"f":94,"m":7,"v":0.985},{"f":94.5,"m":7,"v":0.975},{"f":95.1,"m":7,"v":0.935},{"f":95.6,"m":7,"v":0.91},{"f":96.1,"m":7,"v":0.897},{"f":96.7,"m":7,"v":0.86},{"f":97.2,"m":7,"v":0.83},{"f":97.7,"m":7,"v":0.81},{"f":98.2,"m":7,"v":0.79},{"f":98.8,"m":7,"v":0.8},{"f":99.3,"m":7,"v":0.816},{"f":99.8,"m":7,"v":0.84},{"f":100.3,"m":7,"v":0.87},{"f":101.3,"m":7,"v":0.885},{"f":102.4,"m":7,"v":0.897},{"f":103.4,"m":7,"v":0.915},{"f":104.5,"m":7,"v":0.93},{"f":105.3,"m":7,"v":0.96},{"f":106.4,"m":7,"v":0.97},{"f":107.4,"m":7,"v":0.975},{"f":108.5,"m":7,"v":0.985},{"f":109.5,"m":7,"v":0.99},{"f":111.5,"m":7,"v":0.995},{"f":113.6,"m":7,"v":1.0},{"f":115.7,"m":7,"v":1.0},{"f":117.8,"m":7,"v":1.0},{"f":119.5,"m":7,"v":0.99},{"f":121,"m":7,"v":0.975},{"f":122,"m":7,"v":0.95},{"f":123,"m":7,"v":0.92},{"f":124,"m":7,"v":0.9},{"f":125,"m":7,"v":0.876},{"f":126,"m":7,"v":0.89},{"f":127.2,"m":7,"v":0.985},{"f":128.2,"m":7,"v":1.0},{"f":129.5,"m":7,"v":0.99},{"f":131,"m":7,"v":0.985},{"f":133,"m":7,"v":0.99},{"f":135,"m":7,"v":0.99},{"f":137,"m":7,"v":0.985},{"f":139,"m":7,"v":0.98},{"f":141,"m":7,"v":0.98},{"f":143,"m":7,"v":0.985},{"f":145,"m":7,"v":0.99},{"f":147,"m":7,"v":0.99},{"f":149,"m":7,"v":0.985},{"f":151,"m":7,"v":0.98},{"f":153,"m":7,"v":0.975},{"f":155,"m":7,"v":0.97},{"f":157,"m":7,"v":0.965},{"f":159,"m":7,"v":0.958},{"f":161,"m":7,"v":0.952},{"f":163,"m":7,"v":0.947},{"f":165,"m":7,"v":0.942},{"f":167,"m":7,"v":0.937},{"f":169,"m":7,"v":0.935},{"f":171,"m":7,"v":0.935},{"f":173,"m":7,"v":0.935},{"f":175,"m":7,"v":0.932},{"f":177,"m":7,"v":0.93},{"f":178.5,"m":7,"v":0.925},{"f":180,"m":7,"v":0.918},{"f":181.5,"m":7,"v":0.905},{"f":182.5,"m":7,"v":0.895},{"f":183.5,"m":7,"v":0.875},{"f":184.5,"m":7,"v":0.885},{"f":185.5,"m":7,"v":0.96},{"f":186.3,"m":7,"v":1.0},{"f":187.2,"m":7,"v":0.975},{"f":188.2,"m":7,"v":0.95},{"f":189.2,"m":7,"v":0.92},{"f":190.2,"m":7,"v":0.88},{"f":191.2,"m":7,"v":0.845},{"f":192.2,"m":7,"v":0.815},{"f":193.5,"m":7,"v":0.795},{"f":195,"m":7,"v":0.78},{"f":197,"m":7,"v":0.77},{"f":199,"m":7,"v":0.762},{"f":201,"m":7,"v":0.757},{"f":203,"m":7,"v":0.76},{"f":204.5,"m":7,"v":0.768},{"f":206,"m":7,"v":0.778},{"f":208.3,"m":7,"v":0.788},{"f":210.3,"m":7,"v":0.795},{"f":212.4,"m":7,"v":0.8},{"f":214.5,"m":7,"v":0.805},{"f":215.6,"m":7,"v":0.803},{"f":216.6,"m":7,"v":0.8},{"f":217.6,"m":7,"v":0.79},{"f":218.7,"m":7,"v":0.777},{"f":219.7,"m":7,"v":0.763},{"f":220.7,"m":7,"v":0.75},{"f":221.8,"m":7,"v":0.737},{"f":222.9,"m":7,"v":0.725},{"f":223.9,"m":7,"v":0.717},{"f":225,"m":7,"v":0.724},{"f":226,"m":7,"v":0.737},{"f":227,"m":7,"v":0.75},{"f":228,"m":7,"v":0.763},{"f":229.1,"m":7,"v":0.776},{"f":230.1,"m":7,"v":0.79},{"f":231.2,"m":7,"v":0.803},{"f":232.2,"m":7,"v":0.82},{"f":233.3,"m":7,"v":0.836},{"f":234.3,"m":7,"v":0.853},{"f":235.4,"m":7,"v":0.87},{"f":236.4,"m":7,"v":0.885},{"f":237.4,"m":7,"v":0.9},{"f":238.5,"m":7,"v":0.915},{"f":239.5,"m":7,"v":0.93},{"f":240.6,"m":7,"v":0.94},{"f":241.6,"m":7,"v":0.95},{"f":243.2,"m":7,"v":0.955},{"f":244.7,"m":7,"v":0.96},{"f":246.3,"m":7,"v":0.965},{"f":247.9,"m":7,"v":0.968},{"f":249.5,"m":7,"v":0.965},{"f":251,"m":7,"v":0.96},{"f":252.6,"m":7,"v":0.955},{"f":254.1,"m":7,"v":0.95},{"f":255.2,"m":7,"v":0.935},{"f":256.2,"m":7,"v":0.92},{"f":257.2,"m":7,"v":0.9},{"f":257.9,"m":7,"v":0.88},{"f":258.6,"m":7,"v":0.91},{"f":259.3,"m":7,"v":0.95},{"f":260.4,"m":7,"v":0.975},{"f":262,"m":7,"v":0.978},{"f":263.5,"m":7,"v":0.98},{"f":265,"m":7,"v":0.985},{"f":266.6,"m":7,"v":0.99},{"f":268.7,"m":7,"v":0.995},{"f":270.8,"m":7,"v":1.0},{"f":272.9,"m":7,"v":1.0},{"f":274.9,"m":7,"v":0.998},{"f":277,"m":7,"v":0.99},{"f":278.5,"m":7,"v":0.97},{"f":280,"m":7,"v":0.955},{"f":281.5,"m":7,"v":0.945},{"f":283,"m":7,"v":0.938},{"f":284.5,"m":7,"v":0.935},{"f":286,"m":7,"v":0.935},{"f":287.5,"m":7,"v":0.94},{"f":289,"m":7,"v":0.948},{"f":290.5,"m":7,"v":0.955},{"f":292,"m":7,"v":0.96},{"f":293.7,"m":7,"v":0.968},{"f":295.8,"m":7,"v":0.975},{"f":297.9,"m":7,"v":0.98},{"f":299.5,"m":7,"v":0.99}
]
},
"hconcat":[
{"data":{"name":"a"},"width":480,"height":252,"title":"(a)",
"mark":{"type":"point","filled":true,"size":44,"opacity":1,"strokeWidth":0.6},
"encoding":{
"x":{"field":"f","type":"quantitative","scale":{"domain":[10,310],"nice":false,"zero":false},"axis":{"values":[10,40,70,100,130,160,190,220,250,280,310],"title":"f (Hz)"}},
"y":{"field":"v","type":"quantitative","scale":{"domain":[0,1],"nice":false},"axis":{"values":[0,0.2,0.4,0.6,0.8,1],"labelExpr":"replace(format(datum.value,'.1f'),'.',',')","title":"FDAC"}},
"stroke":{"field":"m","type":"nominal","scale":{"domain":[5,6,7],"range":["#8E302D","#2E5C91","#6F8E37"]},"legend":null},
"color":{"field":"m","type":"nominal","scale":{"domain":[5,6,7],"range":["#C0504D","#4F81BD","#9BBB59"]},"legend":{"orient":"none","legendX":80,"legendY":197,"direction":"horizontal","title":"\u00a0","titleOrient":"left","titlePadding":6,"fillColor":"#ffffff","strokeColor":"#bfbfbf","padding":9,"columnPadding":14,"labelFontSize":16,"labelOffset":8,"symbolType":"circle","symbolSize":28,"symbolStrokeWidth":0,"labelExpr":"'Modelo ' + datum.label"}}
}},
{"data":{"name":"b"},"width":480,"height":252,"title":"(b)",
"mark":{"type":"point","filled":true,"size":44,"opacity":1,"strokeWidth":0.6},
"encoding":{
"x":{"field":"f","type":"quantitative","scale":{"domain":[10,310],"nice":false,"zero":false},"axis":{"values":[10,40,70,100,130,160,190,220,250,280,310],"title":"f (Hz)"}},
"y":{"field":"v","type":"quantitative","scale":{"domain":[0,1],"nice":false},"axis":{"values":[0,0.2,0.4,0.6,0.8,1],"labelExpr":"replace(format(datum.value,'.1f'),'.',',')","title":"FDAC"}},
"stroke":{"field":"m","type":"nominal","scale":{"domain":[5,6,7],"range":["#8E302D","#2E5C91","#6F8E37"]},"legend":null},
"color":{"field":"m","type":"nominal","scale":{"domain":[5,6,7],"range":["#C0504D","#4F81BD","#9BBB59"]},"legend":{"orient":"none","legendX":80,"legendY":197,"direction":"horizontal","title":"\u00a0","titleOrient":"left","titlePadding":6,"fillColor":"#ffffff","strokeColor":"#bfbfbf","padding":9,"columnPadding":14,"labelFontSize":16,"labelOffset":8,"symbolType":"circle","symbolSize":28,"symbolStrokeWidth":0,"labelExpr":"'Modelo ' + datum.label"}}
}}
]
}
